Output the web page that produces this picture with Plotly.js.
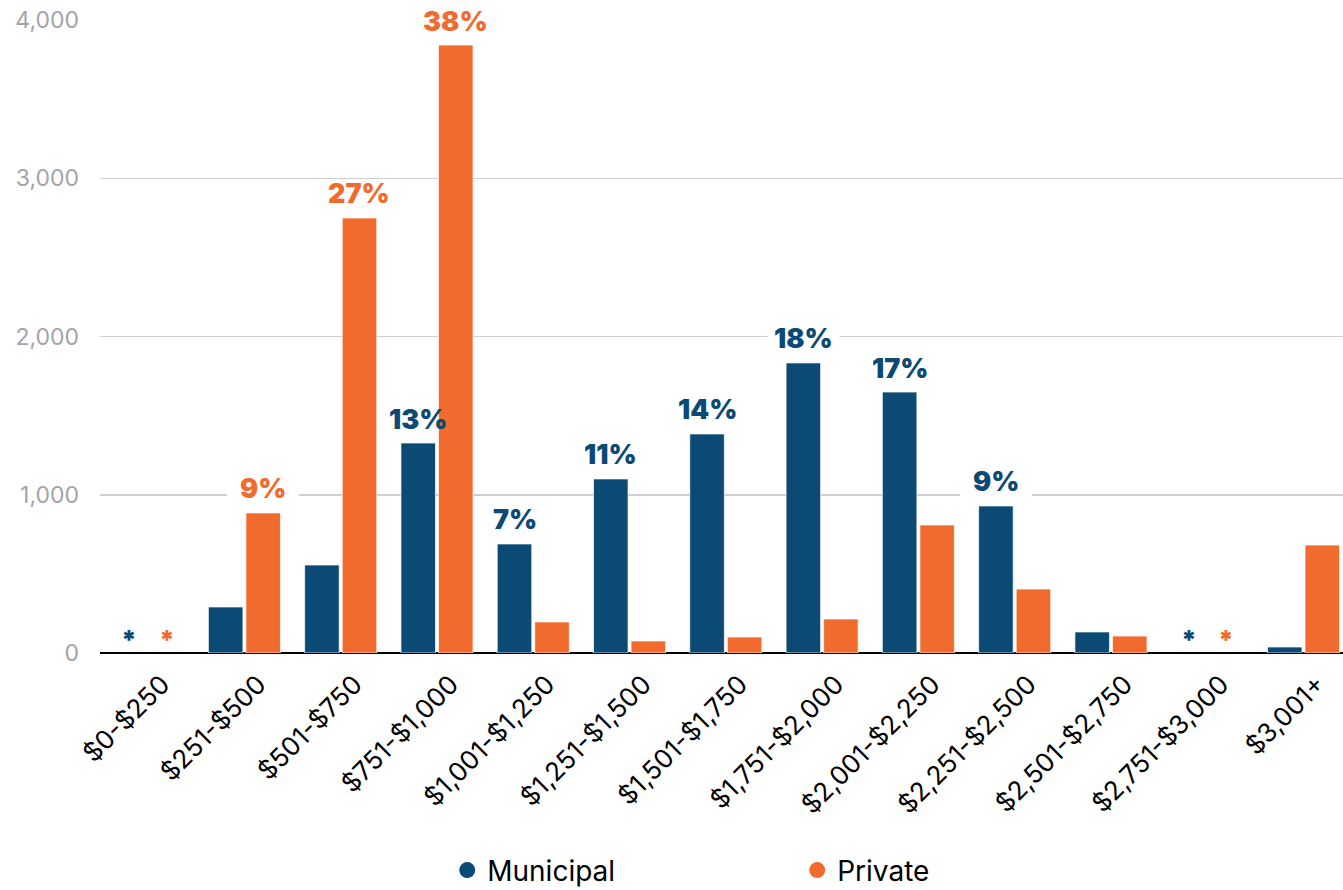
<!DOCTYPE html>
<html>
<head>
<meta charset="utf-8">
<script src="https://cdn.plot.ly/plotly-3.0.1.min.js"></script>
<style>
  html, body { margin: 0; padding: 0; background: #fff; }
  #chart { width: 1343px; height: 890px; }
</style>
</head>
<body>
<div id="chart"></div>
<script>
const categories = ['$0-$250','$251-$500','$501-$750','$751-$1,000','$1,001-$1,250','$1,251-$1,500','$1,501-$1,750','$1,751-$2,000','$2,001-$2,250','$2,251-$2,500','$2,501-$2,750','$2,751-$3,000','$3,001+'];
const municipal = [null, 291, 556, 1327, 689, 1100, 1384, 1833, 1649, 929, 133, null, 38];
const privateVals = [null, 885, 2749, 3842, 196, 76, 101, 215, 809, 404, 107, null, 682];
const municipalPct = ['', '', '', '13%', '7%', '11%', '14%', '18%', '17%', '9%', '', '', ''];
const privatePct = ['', '9%', '27%', '38%', '', '', '', '', '', '', '', '', ''];
const yTicks = [0, 1000, 2000, 3000, 4000];

const BLUE = '#0a4a75';
const ORANGE = '#f26b2e';
const SLOT = 18.7;

const traces = [
  {
    type: 'bar', name: 'Municipal', x: categories, y: municipal,
    marker: { color: BLUE, line: { color: 'rgba(255,255,255,0.7)', width: 1 } },
    showlegend: false, hoverinfo: 'x+y'
  },
  {
    type: 'bar', name: 'Private', x: categories, y: privateVals,
    marker: { color: ORANGE, line: { color: 'rgba(255,255,255,0.7)', width: 1 } },
    showlegend: false, hoverinfo: 'x+y'
  },
  {
    type: 'scatter', mode: 'markers', name: 'Municipal', x: [null], y: [null],
    marker: { color: BLUE, size: 20, symbol: 'circle' }, showlegend: true
  },
  {
    type: 'scatter', mode: 'markers', name: 'Private', x: [null], y: [null],
    marker: { color: ORANGE, size: 20, symbol: 'circle' }, showlegend: true
  }
];

const annotations = [];
const shapes = [];
function addLabels(vals, pcts, color, shift) {
  categories.forEach((c, i) => {
    if (vals[i] === null) {
      annotations.push({
        x: c, y: 0, xref: 'x', yref: 'y', text: '*', showarrow: false,
        xshift: shift, yshift: 14, yanchor: 'middle',
        font: { family: 'Inter, sans-serif', size: 26, color: color, weight: 900 }
      });
    } else if (pcts[i]) {
      annotations.push({
        x: c, y: vals[i], xref: 'x', yref: 'y', text: pcts[i], showarrow: false,
        xshift: shift, yshift: 24, yanchor: 'middle',
        font: { family: 'Inter, sans-serif', size: 27, color: color, weight: 900 }
      });
      shapes.push({
        type: 'rect', layer: 'between', xref: 'x', yref: 'y',
        xsizemode: 'pixel', ysizemode: 'pixel',
        xanchor: c, yanchor: vals[i],
        x0: shift - 36, x1: shift + 36, y0: 10, y1: 38,
        fillcolor: '#ffffff', line: { width: 0 }
      });
    }
  });
}
addLabels(municipal, municipalPct, BLUE, -SLOT);
addLabels(privateVals, privatePct, ORANGE, SLOT);

const layout = {
  width: 1343, height: 890,
  margin: { l: 100, r: 0, t: 20, b: 237, autoexpand: false },
  paper_bgcolor: '#ffffff', plot_bgcolor: '#ffffff',
  barmode: 'group', bargap: 0.22, bargroupgap: 0.08,
  font: { family: 'Inter, sans-serif', color: '#000' },
  xaxis: {
    type: 'category', range: [-0.5, 12.41],
    tickangle: -45, tickfont: { size: 26, color: '#000' },
    showgrid: false, zeroline: false, showline: false, ticks: '',
    ticklabelstandoff: 10, ticklabelshift: 14, fixedrange: true, automargin: false
  },
  yaxis: {
    range: [0, 4000], tickvals: yTicks,
    tickformat: ',d', tickfont: { size: 23, color: '#a3a3a8' },
    showgrid: true, gridcolor: '#cfcfd2', gridwidth: 1.5,
    zeroline: true, zerolinecolor: '#000', zerolinewidth: 2.5,
    showline: false, ticks: '', ticklabelstandoff: 20, fixedrange: true, automargin: false
  },
  legend: {
    orientation: 'h', xref: 'container', yref: 'container',
    x: 0.333, xanchor: 'left', y: 0.022, yanchor: 'middle',
    font: { size: 28, color: '#000' }, entrywidth: 305, itemwidth: 30,
    bgcolor: 'rgba(0,0,0,0)'
  },
  annotations: annotations,
  shapes: shapes,
  showlegend: true
};

Plotly.newPlot('chart', traces, layout, { displayModeBar: false, staticPlot: true });
</script>
</body>
</html>
